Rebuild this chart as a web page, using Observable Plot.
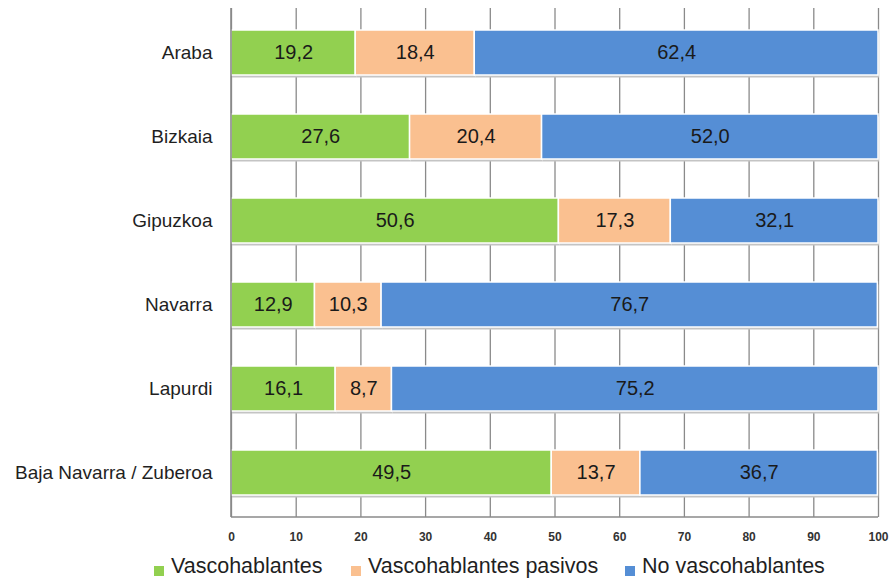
<!DOCTYPE html>
<html><head><meta charset="utf-8">
<script src="https://cdn.jsdelivr.net/npm/d3@7"></script>
<script src="https://cdn.jsdelivr.net/npm/@observablehq/plot@0.6"></script>
<style>
body{margin:0;background:#fff;font-family:"Liberation Sans",Arial,sans-serif;position:relative;width:892px;height:579px;overflow:hidden;}
#legend{position:absolute;top:553px;left:0;width:892px;height:26px;font-size:21.5px;color:#1f1f1f;}
#legend .item{position:absolute;top:0;white-space:nowrap;line-height:26px;}
#legend span.sw{display:inline-block;width:10px;height:10px;margin-right:7px;vertical-align:-3px;}
</style></head>
<body>
<div id="chart"></div>
<div id="legend"></div>
<script>
const regions = ["Araba","Bizkaia","Gipuzkoa","Navarra","Lapurdi","Baja Navarra / Zuberoa"];
const seriesNames = ["Vascohablantes","Vascohablantes pasivos","No vascohablantes"];
const vascohablantes = [19.2, 27.6, 50.6, 12.9, 16.1, 49.5];
const pasivos = [18.4, 20.4, 17.3, 10.3, 8.7, 13.7];
const noVasco = [62.4, 52.0, 32.1, 76.7, 75.2, 36.7];
const colors = ["#92d050","#fac090","#558ed5"];
const xTicks = [0,10,20,30,40,50,60,70,80,90,100];

const seriesValues = [vascohablantes, pasivos, noVasco];
const data = [];
regions.forEach((r,i)=>seriesNames.forEach((s,j)=>data.push({region:r, series:s, value:seriesValues[j][i]})));
const fmt = v => v.toFixed(1).replace(".", ",");

const chart = Plot.plot({
  width: 892, height: 546,
  marginLeft: 231, marginRight: 14, marginTop: 8, marginBottom: 29,
  style: {fontFamily: '"Liberation Sans", Arial, sans-serif', background: "#fff"},
  x: {domain: [0,100], ticks: xTicks, label: null},
  y: {domain: regions, paddingInner: 0.46, paddingOuter: 0.23, label: null},
  color: {domain: seriesNames, range: colors},
  marks: [
    Plot.ruleX(xTicks, {stroke: "#8a8a8a", strokeWidth: 1.3}),
    Plot.barX(data, Plot.stackX({x: "value", y: "region", z: "series", order: seriesNames, fill: "#c4c4c4", dy: 2.5, dx: 1})),
    Plot.barX(data, Plot.stackX({x: "value", y: "region", z: "series", fill: "series", order: seriesNames, stroke: "#fff", strokeWidth: 1.5})),
    Plot.text(data, Plot.stackX({x: "value", y: "region", z: "series", order: seriesNames, text: d => fmt(d.value), fontSize: 20, fill: "#1a1a1a"})),
    Plot.axisX({ticks: xTicks, tickSize: 0, tickPadding: 15, fontSize: 12, fontWeight: "bold", fill: "#333"}),
    Plot.axisY({tickSize: 0, tickPadding: 19, fontSize: 19, fill: "#1f1f1f"}),
    () => {
      const ns = "http://www.w3.org/2000/svg";
      const g = document.createElementNS(ns, "g");
      const mk = (x1,y1,x2,y2) => { const l = document.createElementNS(ns,"line"); l.setAttribute("x1",x1);l.setAttribute("y1",y1);l.setAttribute("x2",x2);l.setAttribute("y2",y2);l.setAttribute("stroke","#8a8a8a");l.setAttribute("stroke-width","1.6"); g.appendChild(l); };
      mk(231,8,231,517); mk(231,517,878,517);
      return g;
    }
  ]
});
document.getElementById("chart").appendChild(chart);
const leg = document.getElementById("legend");
const legLeft = [154, 351, 625];
seriesNames.forEach((s,i)=>{
  const d = document.createElement("div");
  d.className = "item";
  d.style.left = legLeft[i] + "px";
  d.innerHTML = `<span class="sw" style="background:${colors[i]}"></span>${s}`;
  leg.appendChild(d);
});
</script>
</body></html>
